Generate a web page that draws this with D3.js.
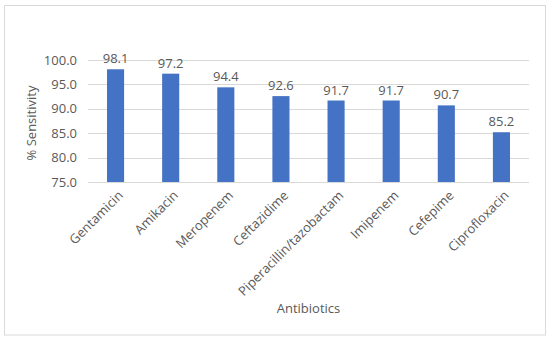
<!DOCTYPE html>
<html>
<head>
<meta charset="utf-8">
<script src="https://cdn.jsdelivr.net/npm/d3@7"></script>
<style>
  body { margin: 0; background: #fff; }
  text { font-family: "Open Sans", "Noto Sans", sans-serif; fill: #595959; }
</style>
</head>
<body>
<div id="chart"></div>
<script>
const antibiotics = ["Gentamicin", "Amikacin", "Meropenem", "Ceftazidime",
    "Piperacillin/tazobactam", "Imipenem", "Cefepime", "Ciprofloxacin"];
const sensitivity = [98.1, 97.2, 94.4, 92.6, 91.7, 91.7, 90.7, 85.2];
const yTicks = [75, 80, 85, 90, 95, 100];

const width = 550, height = 340;
const margin = { top: 60, right: 21, bottom: 158, left: 88 };

const svg = d3.select("#chart").append("svg")
    .attr("width", width)
    .attr("height", height);

// chart border
svg.append("rect")
    .attr("x", 4.5).attr("y", 5.5)
    .attr("width", 541).attr("height", 329.5)
    .attr("fill", "none")
    .attr("stroke", "#d9d9d9");

const x = d3.scaleBand()
    .domain(antibiotics)
    .range([margin.left, width - margin.right])
    .paddingInner(0.69)
    .paddingOuter(0.345);

const y = d3.scaleLinear()
    .domain([75, 100])
    .range([height - margin.bottom, margin.top]);

// gridlines
svg.append("g")
    .selectAll("line")
    .data(yTicks)
    .join("line")
    .attr("x1", margin.left).attr("x2", width - margin.right)
    .attr("y1", d => Math.round(y(d)) + 0.5)
    .attr("y2", d => Math.round(y(d)) + 0.5)
    .attr("stroke", "#d9d9d9");

// y axis labels
const yAxis = d3.axisLeft(y).tickValues(yTicks).tickFormat(d3.format(".1f")).tickSize(0).tickPadding(11);
svg.append("g")
    .attr("transform", `translate(${margin.left},0)`)
    .call(yAxis)
    .call(g => g.select(".domain").remove())
    .selectAll("text")
    .style("font-size", "13px")
    .style("font-family", '"Open Sans", sans-serif')
    .attr("fill", "#595959");

// bars
svg.append("g")
    .selectAll("rect")
    .data(sensitivity)
    .join("rect")
    .attr("x", (d, i) => x(antibiotics[i]))
    .attr("y", d => y(d))
    .attr("width", x.bandwidth())
    .attr("height", d => y(75) - y(d))
    .attr("fill", "#4472c4");

// data labels
svg.append("g")
    .selectAll("text")
    .data(sensitivity)
    .join("text")
    .attr("x", (d, i) => x(antibiotics[i]) + x.bandwidth() / 2)
    .attr("y", d => y(d) - 6)
    .attr("text-anchor", "middle")
    .style("font-size", "13px")
    .text(d => d.toFixed(1));

// x axis labels
const xAxis = d3.axisBottom(x).tickSize(0).tickPadding(0);
svg.append("g")
    .attr("transform", `translate(0,${y(75)})`)
    .call(xAxis)
    .call(g => g.select(".domain").remove())
    .selectAll("text")
    .style("font-size", "13px")
    .style("font-family", '"Open Sans", sans-serif')
    .attr("fill", "#595959")
    .attr("text-anchor", "end")
    .attr("dy", "0.35em")
    .attr("transform", "translate(5,11) rotate(-45)");

// axis titles
svg.append("text")
    .attr("x", (margin.left + width - margin.right) / 2)
    .attr("y", 313)
    .attr("text-anchor", "middle")
    .style("font-size", "13px")
    .text("Antibiotics");

svg.append("text")
    .attr("transform", `translate(36,${(y(75) + y(100)) / 2 + 2}) rotate(-90)`)
    .attr("text-anchor", "middle")
    .style("font-size", "13px")
    .text("% Sensitivity");
</script>
</body>
</html>
